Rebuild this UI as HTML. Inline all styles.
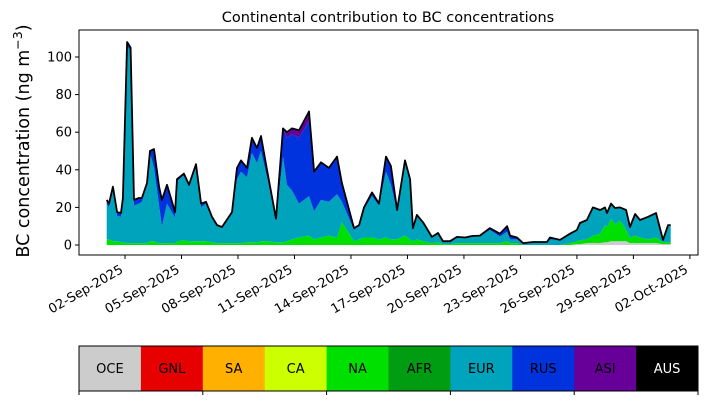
<!DOCTYPE html>
<html><head><meta charset="utf-8"><style>
body{margin:0;background:#fff;width:707px;height:402px;overflow:hidden;font-family:"DejaVu Sans","Liberation Sans",sans-serif}
</style></head><body>
<svg id="c" width="707" height="402" xmlns="http://www.w3.org/2000/svg" font-family="DejaVu Sans, Liberation Sans, sans-serif"></svg>
<script>
const days=[1.03,1.15,1.36,1.58,1.79,1.89,2.11,2.30,2.48,2.74,2.90,3.17,3.33,3.54,3.81,3.96,4.23,4.66,4.76,5.13,5.40,5.77,6.04,6.30,6.62,6.89,7.15,7.68,7.95,8.16,8.48,8.74,9.01,9.22,9.54,10.02,10.39,10.60,10.87,11.24,11.77,12.04,12.41,12.83,13.26,13.52,14.16,14.43,14.69,15.12,15.49,15.86,16.12,16.45,16.87,17.14,17.29,17.50,17.83,18.30,18.62,18.89,19.26,19.63,20.06,20.43,20.85,21.38,21.91,22.29,22.45,22.82,23.14,23.67,24.41,24.57,25.10,25.63,26.00,26.16,26.53,26.85,27.23,27.49,27.60,27.81,28.02,28.29,28.61,28.82,29.09,29.35,29.78,30.20,30.57,30.84,30.98];
const total=[24,22,31,17.5,17,25,108,105,24,25,25,33,50,51,31,24,32,17.5,35,38,32,43,22,23,15,10.6,9.6,17.5,41,45,41,57,51.6,58,40,14,62,60,62,61,71,39,44,41,47,33,9,10.6,20,28,22,47,42,18.6,45,35,9,16,12,4.3,6.4,2,2,4.3,4,4.8,5,9,6,10,5,4,1,1.6,1.6,4,2.7,6,8,11.7,13.3,20,18.6,20,17,22,19.7,20,18.6,9.6,16.5,13.3,15,17,2.7,10.6,10.6];
const rus=[2,2,2,2,2,1,2,2,3,3,2,1,1,10,10,14,10,3,1,1,1,2,2,1,0.5,0,0,1,6,6,5,8,8,8,4,1,15,25,30,35,40,20,20,18,20,10,1,0.5,1,2,1,8,10,1,2,1,0,0,0,0,0,0,0,0,0,0,0,1,1.5,3,2,1,0.5,0,0,1,0,0,0,0,0,0,0,0,0,0,0,0,0,0,0,0,0,0,0,0,0];
const asi=[0,0,0,0,0,0,0,0,0,0,0,0,0,0,0,0,0,0,0,0,0,0,0,0,0,0,0,0,0,0,0,0,0,0,0,0,0,3,3,4,5,1,0,0,0,0,0,0,0,0,0,0,0,0,0,0,0,0,0,0,0,0,0,0,0,0,0,0,0,0,0,0,0,0,0,0,0,0,0,0,0,0,0,0,0,0,0,0,0,0,0,0,0,0,0,0,0];
const na=[3,3,2,2,1.5,1.5,1,1,1,1,1,1,2,2,1,1,1,1,2,2.5,2,2,2,2,1.5,1,1,1,1,1,1.5,1.5,1.5,2,2,1.5,1.5,2,3,4,5,3,4,5,4,12,2,3,4,4,3,4,3,3,5,3,2,3,2,1,1.5,0.5,0.5,1,1,1,1,1,1,2,1,1,0,0,0,0,0,1,1.5,2,2,4,5,9,8,12,9,11,6,3,4,3,2,3,1,1,1];
const oce=[0,0,0,0,0,0,0,0,0,0,0,0,0,0,0,0,0,0,0,0,0,0,0,0,0,0,0,0,0,0,0,0,0,0,0,0,0,0,0,0,0,0,0,0,0,0,0,0,0,0,0,0,0,0,0,0,0,0,0,0,0,0,0,0,0,0,0,0,0,0,0,0,0,0,0,0,0,0,0.5,0.5,1,1,1,1.5,1.5,2,2,2,2,1,1,1,1,1,0.5,0.5,0.5];
const yTicks=[0,20,40,60,80,100];
const xTickDays=[2,5,8,11,14,17,20,23,26,29,32];
const xTickLabels=["02-Sep-2025","05-Sep-2025","08-Sep-2025","11-Sep-2025","14-Sep-2025","17-Sep-2025","20-Sep-2025","23-Sep-2025","26-Sep-2025","29-Sep-2025","02-Oct-2025"];
const regions=["OCE","GNL","SA","CA","NA","AFR","EUR","RUS","ASI","AUS"];
const regionColors=["#cccccc","#e60000","#ffb000","#ccff00","#00e000","#009c12","#00a3bc","#0033dd","#660099","#000000"];

const NS="http://www.w3.org/2000/svg";
const svg=document.getElementById('c');
const L=79,R=698,T=30,B=255;
const X=d=>125+(d-2)*18.83;
const Y=v=>245-v*1.88;
function mk(t,a,p){const e=document.createElementNS(NS,t);for(const k in a)e.setAttribute(k,a[k]);(p||svg).appendChild(e);return e;}

const eur=total.map((t,i)=>Math.max(0,t-rus[i]-asi[i]-na[i]-oce[i]));
const stack=[["oce",oce,0],["na",na,4],["eur",eur,6],["rus",rus,7],["asi",asi,8]];
let base=days.map(()=>0);
const g=mk('g',{});


for(const [nm,vals,ci] of stack){
  const top=base.map((b,i)=>b+vals[i]);
  let d='M'+days.map((dd,i)=>X(dd).toFixed(1)+','+Y(top[i]).toFixed(1)).join('L');
  for(let i=days.length-1;i>=0;i--)d+='L'+X(days[i]).toFixed(1)+','+Y(base[i]).toFixed(1);
  const p=mk('path',{d:d+'Z',fill:regionColors[ci],stroke:'none'},g);
  
  
  base=top;
}
const tl=mk('path',{d:'M'+days.map((dd,i)=>X(dd).toFixed(1)+','+Y(total[i]).toFixed(1)).join('L'),fill:'none',stroke:'#000','stroke-width':1.8,'stroke-linejoin':'round'});



const fr=mk('rect',{x:L,y:T,width:R-L,height:B-T,fill:'none',stroke:'#000','stroke-width':1});



yTicks.forEach(v=>{
  mk('line',{x1:L-4,x2:L,y1:Y(v),y2:Y(v),stroke:'#000'});
  const t=mk('text',{x:L-7,y:Y(v)+4.5,'text-anchor':'end','font-size':13});
  t.textContent=v;
  
  
});
xTickDays.forEach((d,i)=>{
  const x=X(d);
  mk('line',{x1:x,x2:x,y1:B,y2:B+4,stroke:'#000'});
  const ax=x-1, ay=B+17;
  const t=mk('text',{x:ax,y:ay,'text-anchor':'end','font-size':13,transform:`rotate(-30 ${ax} ${ay})`});
  t.textContent=xTickLabels[i];
  
  
});
const ti=mk('text',{x:388,y:22,'text-anchor':'middle','font-size':14.5});
ti.textContent='Continental contribution to BC concentrations';


const yl=mk('text',{x:29,y:141,'text-anchor':'middle','font-size':17.5,transform:'rotate(-90 29 141)'});
yl.innerHTML='BC concentration (ng m<tspan dy="-7" font-size="12.5">−3</tspan><tspan dy="7">)</tspan>';



const cw=(R-L)/regions.length;
regions.forEach((r,i)=>{
  const rc=mk('rect',{x:L+i*cw,y:346,width:cw+0.5,height:45,fill:regionColors[i]});
  
  
  const t=mk('text',{x:L+(i+0.5)*cw,y:373,'text-anchor':'middle','font-size':13,fill:r==='AUS'?'#fff':'#000'});
  t.textContent=r;
  
  
});
mk('rect',{x:L,y:346,width:R-L,height:45,fill:'none',stroke:'#000'});
for(let i=0;i<=5;i++){const x=L+i*(R-L)/5;mk('line',{x1:x,x2:x,y1:391,y2:395,stroke:'#000'});}
</script>
</body></html>
